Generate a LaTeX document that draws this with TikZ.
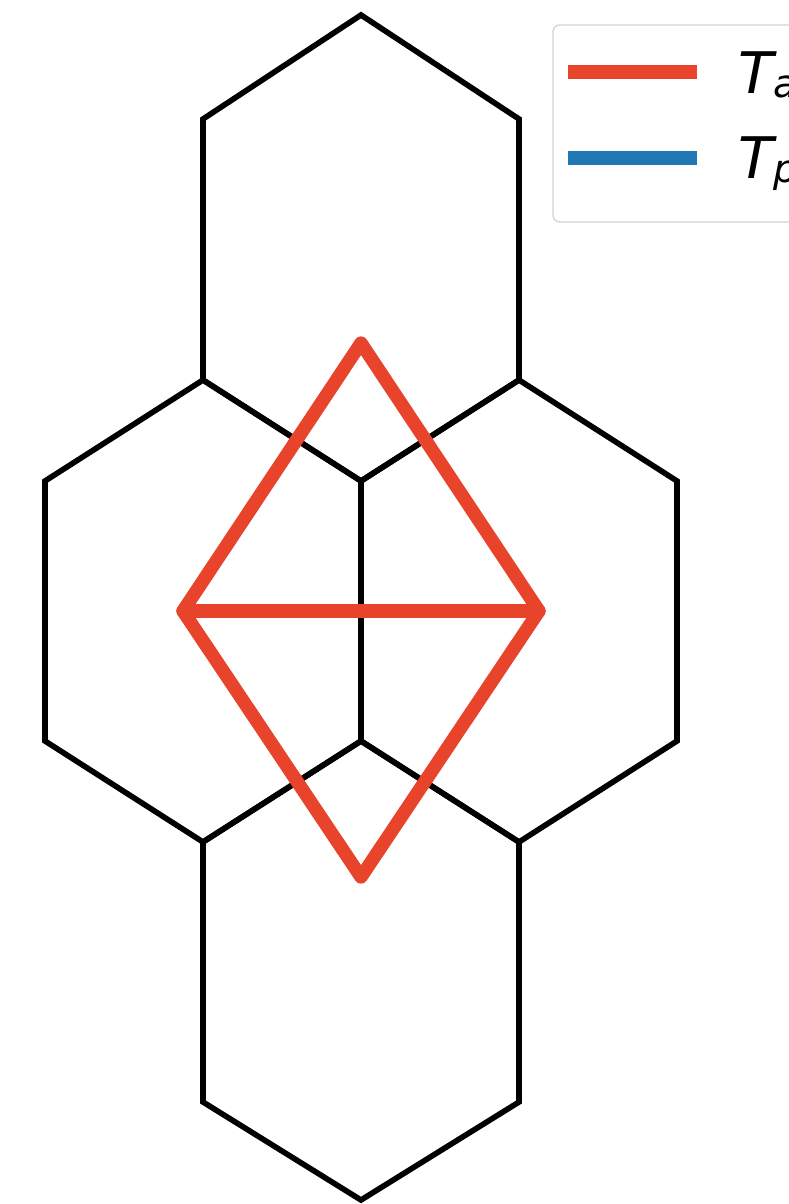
\documentclass[tikz,border=0pt]{standalone}
\usepackage{fontspec}
\newfontfamily\dvfont{DejaVu Sans}
\definecolor{redline}{RGB}{232,68,44}
\definecolor{blueline}{RGB}{31,119,180}
\definecolor{legframe}{RGB}{210,210,210}
\begin{document}
\begin{tikzpicture}[x=0.75pt,y=-0.75pt,
  hexline/.style={draw=black,line width=4.2pt,line join=miter},
  redpath/.style={draw=redline,line width=10pt,line join=round,line cap=round},
  legline/.style={line width=11pt},
  legtext/.style={anchor=base west,inner sep=0pt,font=\dvfont\itshape\fontsize{43}{50}\selectfont}]
\useasboundingbox (0,0) rectangle (789,1204);
\clip (0,0) rectangle (789,1204);
% hexagons
\draw[hexline] (361,15) -- (203,119) -- (203,380) -- (361,481) -- (519,380) -- (519,119) -- cycle;
\draw[hexline] (203,380) -- (45,481) -- (45,741) -- (203,842) -- (361,741) -- (361,481) -- cycle;
\draw[hexline] (519,380) -- (677,481) -- (677,741) -- (519,842) -- (361,741) -- (361,481) -- cycle;
\draw[hexline] (361,741) -- (203,842) -- (203,1102) -- (361,1200) -- (519,1102) -- (519,842) -- cycle;
% red diamond
\coordinate (rt) at (361,343);
\coordinate (rl) at (183,611);
\coordinate (rr) at (539,611);
\coordinate (rb) at (361,877);
\draw[redpath] (rl) -- (rt) -- (rr) -- (rb) -- cycle;
\draw[redpath] (rl) -- (rr);
% legend
\draw[draw=legframe,fill=white,line width=1pt,rounded corners=5pt] (553,25) rectangle (830,222);
\coordinate (la1) at (568,72); \coordinate (la2) at (697,72);
\coordinate (lb1) at (568,158); \coordinate (lb2) at (697,158);
\draw[legline,redline] (la1) -- (la2);
\draw[legline,blueline] (lb1) -- (lb2);
\node[legtext] (ta) at (738,93) {T\raisebox{-3.5pt}{\fontsize{29}{34}\selectfont a}};
\node[legtext] (tp) at (738,178) {T\raisebox{-3.5pt}{\fontsize{29}{34}\selectfont p}};
\end{tikzpicture}
\end{document}
